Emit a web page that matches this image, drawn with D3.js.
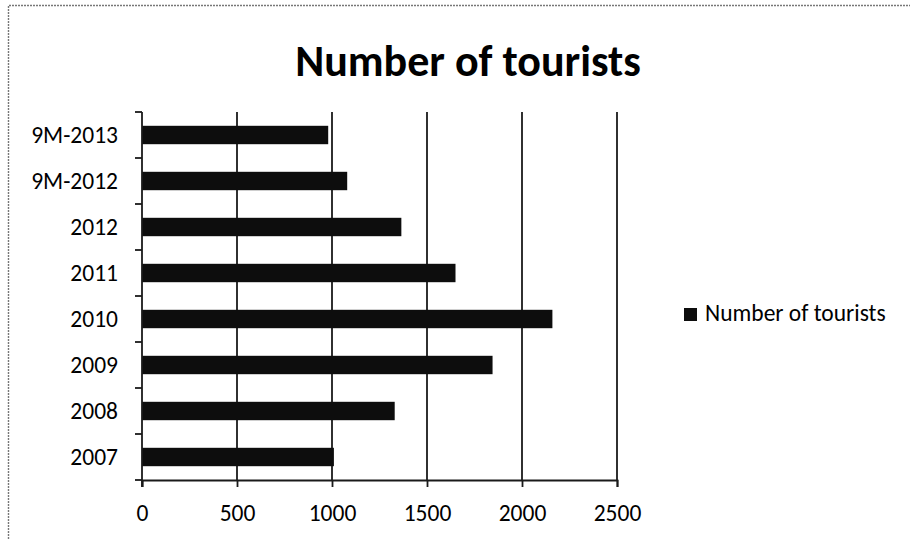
<!DOCTYPE html>
<html>
<head>
<meta charset="utf-8">
<script src="https://cdn.jsdelivr.net/npm/d3@7"></script>
<style>
  html, body { margin: 0; padding: 0; background: #fff; }
  svg { display: block; }
  text { font-family: Carlito, Lato, "Open Sans", sans-serif; fill: #000; font-variant-numeric: tabular-nums; }
</style>
</head>
<body>
<svg id="chart" width="910" height="539"></svg>
<script>
// Tourist counts per period (bars listed top to bottom)
const categories = ["9M-2013", "9M-2012", "2012", "2011", "2010", "2009", "2008", "2007"];
const tourists = [980, 1080, 1365, 1650, 2160, 1845, 1330, 1010];
const xTicks = [0, 500, 1000, 1500, 2000, 2500];
const seriesName = "Number of tourists";
const chartTitle = "Number of tourists";

const svg = d3.select("#chart");
const W = 910, H = 539;
const plot = { left: 142, right: 617, top: 112, bottom: 480 };
const labelSize = 23.5;

// frame of the chart area
svg.append("path")
  .attr("d", `M8.5,${H} V5.5 H${W}`)
  .attr("fill", "none")
  .attr("stroke", "#777")
  .attr("stroke-width", 1.4)
  .attr("stroke-dasharray", "2,1");

const x = d3.scaleLinear().domain([0, 2500]).range([plot.left, plot.right]);
const y = d3.scaleBand().domain(categories).range([plot.top, plot.bottom])
  .paddingInner(0.6).paddingOuter(0.3);

// vertical gridlines
svg.append("g").selectAll("line")
  .data(xTicks.slice(1))
  .join("line")
  .attr("x1", d => x(d)).attr("x2", d => x(d))
  .attr("y1", plot.top).attr("y2", plot.bottom)
  .attr("stroke", "#1a1a1a").attr("stroke-width", 1.8);

// bars
svg.append("g").selectAll("rect")
  .data(categories.map((c, i) => ({ c, v: tourists[i] })))
  .join("rect")
  .attr("x", x(0))
  .attr("y", d => y(d.c))
  .attr("width", d => x(d.v) - x(0))
  .attr("height", y.bandwidth())
  .attr("fill", "#0d0d0d");

// x axis
const xAxis = svg.append("g")
  .attr("transform", `translate(0,${plot.bottom})`)
  .call(d3.axisBottom(x).tickValues(xTicks).tickFormat(d3.format("d")).tickSize(7).tickPadding(17));
xAxis.select(".domain").attr("stroke", "#1a1a1a").attr("stroke-width", 1.8);
xAxis.selectAll(".tick line").attr("stroke", "#1a1a1a").attr("stroke-width", 1.8);
xAxis.selectAll(".tick text").attr("font-size", labelSize).attr("font-family", "Carlito, Lato, sans-serif").attr("fill", "#000");

// y axis with tick marks at category boundaries
const yAxisG = svg.append("g");
yAxisG.append("line")
  .attr("x1", plot.left).attr("x2", plot.left)
  .attr("y1", plot.top).attr("y2", plot.bottom + 7)
  .attr("stroke", "#1a1a1a").attr("stroke-width", 1.8);
const step = y.step();
yAxisG.selectAll("line.bound")
  .data(d3.range(categories.length + 1))
  .join("line")
  .attr("class", "bound")
  .attr("x1", plot.left - 7).attr("x2", plot.left)
  .attr("y1", i => plot.top + i * step).attr("y2", i => plot.top + i * step)
  .attr("stroke", "#1a1a1a").attr("stroke-width", 1.8);
yAxisG.selectAll("text")
  .data(categories)
  .join("text")
  .attr("x", 118)
  .attr("y", d => y(d) + y.bandwidth() / 2)
  .attr("dy", "0.35em")
  .attr("text-anchor", "end")
  .attr("font-size", labelSize)
  .text(d => d);

// title
svg.append("text")
  .attr("x", 468).attr("y", 76)
  .attr("text-anchor", "middle")
  .attr("font-size", 44)
  .attr("font-weight", "bold")
  .text(chartTitle);

// legend
const lg = svg.append("g").attr("transform", "translate(684,308)");
lg.append("rect").attr("width", 13).attr("height", 13).attr("fill", "#0d0d0d");
lg.append("text").attr("x", 21).attr("y", 13).attr("font-size", labelSize).text(seriesName);
</script>
</body>
</html>
